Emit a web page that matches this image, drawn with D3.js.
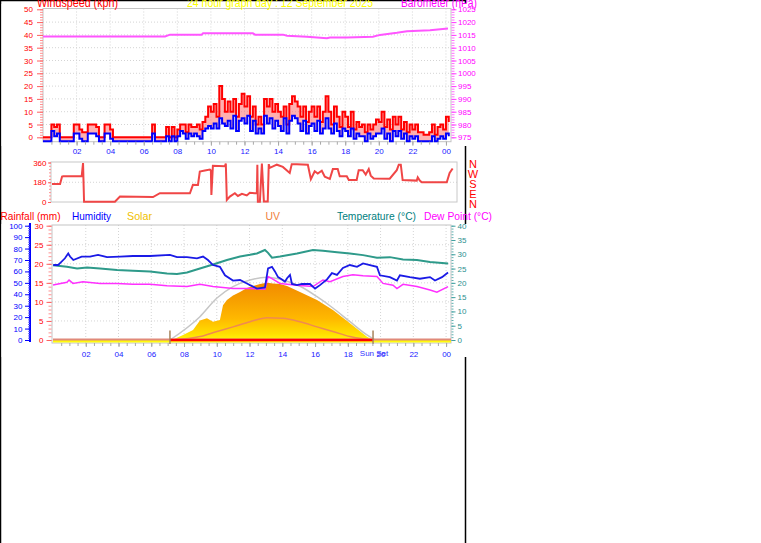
<!DOCTYPE html>
<html><head><meta charset="utf-8">
<script src="https://cdn.jsdelivr.net/npm/d3@7"></script>
<style>
html,body{margin:0;padding:0;background:#fff;}
svg{display:block;font-family:"Liberation Sans",Arial,sans-serif;}
</style></head><body>
<svg id="c" width="761" height="543"></svg>
<script>
// ---------------- DATA ----------------
// wind, 10-minute samples starting 00:00 (kph)
const windGust = [
0,0,0,5,4,5, 0,0,0,0,0,5, 5,3,2,2,5,5, 5,4,0,0,5,5, 3,0,0,0,0,0, 0,0,0,0,0,0,
0,0,0,5,0,0, 0,0,4,0,4,0, 3,5,5,2,5,4, 4,5,3,6,8,12, 10,13,8,20,15,10, 14,10,15,8,13,17,
12,16,8,12,5,8, 5,15,12,15,10,13, 10,8,12,5,13,16, 14,12,8,12,6,10, 12,8,12,6,10,16, 10,5,12,8,4,10,
8,4,10,3,6,4, 5,2,5,3,5,7, 6,10,4,7,3,8, 5,8,3,6,2,5, 3,5,2,2,1,1, 2,5,1,4,5,3, 8,6];
const windAvg = [
0,0,0,4,2,3, 0,0,0,0,0,3, 3,1,0,0,3,3, 3,2,0,0,3,3, 1,0,0,0,0,0, 0,0,0,0,0,0,
0,0,0,3,0,0, 0,0,2,0,2,0, 2,4,3,1,3,2, 3,2,1,4,5,6, 5,7,5,9,7,6, 8,5,10,4,8,9,
7,10,4,8,3,5, 3,10,7,9,5,8, 6,4,9,3,8,10, 9,7,4,8,3,6, 7,4,8,3,5,9, 5,3,7,4,2,5,
4,2,5,1,3,2, 2,0,3,1,2,3, 3,5,1,3,0,4, 2,4,1,3,0,2, 1,2,0,0,0,0, 0,2,0,1,2,1, 3,2];
const baroHours  = [0, 7.27, 7.56, 9.45, 9.53, 12.5, 12.63, 14.3, 14.53, 15.72, 16.91, 17.09, 18.1, 19.65, 20.07, 21.08, 21.68, 23.05, 24.12];
const baroValues = [1014.4, 1014.4, 1015.1, 1015.1, 1015.6, 1015.6, 1015.1, 1015.1, 1014.7, 1014.3, 1013.7, 1014.0, 1014.0, 1014.3, 1015.0, 1015.8, 1016.4, 1016.8, 1017.5];

const dirHours = [0.06,0.54,0.66,0.73,1.83,1.91,1.97,3.81,4.11,6.08,6.49,8.28,8.46,8.76,8.87,9.17,9.47,9.53,9.56,9.65,10.36,10.42,10.48,10.66,10.96,11.14,11.38,11.67,11.85,12.15,12.27,12.30,12.33,12.45,12.57,12.69,12.92,12.98,13.04,13.46,13.82,14.23,14.35,14.65,15.31,15.49,15.72,15.90,16.14,16.32,16.62,16.80,17.09,17.21,17.63,17.75,18.22,18.34,18.58,18.76,18.94,19.06,19.24,20.19,20.61,20.73,20.85,20.96,21.80,21.86,21.98,22.10,23.59,23.76,23.94];
const dirValues = [165,165,232,235,235,355,2,2,49,45,80,80,156,155,278,287,295,287,64,330,325,350,18,49,80,55,75,60,85,80,80,339,2,2,350,5,5,345,311,340,320,265,345,345,340,208,280,260,285,230,210,300,300,235,235,200,200,290,290,250,300,240,215,212,290,340,340,200,195,225,195,180,180,265,305];

const humHours  = [0.02,0.31,0.73,0.93,1.04,1.24,1.75,2.26,2.75,3.30,4.09,4.88,5.92,7.14,7.57,8.18,8.79,9.16,9.46,9.77,10.19,10.50,10.99,11.42,11.90,12.03,12.45,12.94,13.13,13.37,13.55,13.74,13.98,14.16,14.29,14.47,14.59,14.90,15.20,15.69,16.00,16.30,16.73,17.03,17.34,17.70,18.13,18.56,18.93,19.35,19.78,19.96,20.57,21.00,21.18,21.79,22.40,23.02,23.32,23.75,24.12];
const humValues = [65.6,65.6,71.5,75.8,73,70,73,73,74.5,72.5,73,73.5,73.5,74.5,72.5,72.5,71.5,73,70,65.6,64,56.6,52,52.5,49,48,45,46,62.7,64,60,55,53,51,54,57,49,48,49,49,45,48,53,58.5,57,63,65.6,64,67,65.6,64,56.6,55,52,56.6,55,53.6,55,52,55,59];

const tempHours  = [0,0.85,1.47,2.08,2.87,3.91,4.88,5.92,6.96,7.57,8.18,8.97,9.77,10.62,11.42,12.03,12.45,12.94,13.13,13.37,13.86,14.90,15.87,16.48,17.34,18.13,18.93,19.78,20.57,21.37,22.22,23.02,24.12];
const tempValues = [26.2,25.6,25.0,25.4,25.0,24.5,24.2,24.0,23.3,23.1,23.6,25.0,26.4,28.0,29.2,29.8,30.3,31.5,30.5,28.8,29.2,30.3,31.5,31.2,30.7,30.3,29.7,28.8,29.0,28.2,28.0,27.3,26.8];

const dewHours  = [0,0.85,0.98,1.22,1.83,2.87,3.91,4.88,5.92,6.96,8.18,8.97,9.77,10.99,12.03,12.94,13.13,13.37,13.86,14.90,15.87,16.48,16.91,17.70,18.31,18.93,19.78,20.15,20.76,21.00,21.37,22.22,23.02,23.44,24.12];
const dewValues = [19.25,20.2,21.0,19.8,20.4,19.8,19.8,19.5,19.5,19.0,18.7,19.5,18.7,18.0,18.0,17.8,22.2,21.5,19.8,19.2,18.7,21.0,20.4,22.2,22.8,22.5,22.2,19.8,19.2,18.0,19.5,18.7,17.5,16.7,18.7];

const solarHours  = [0,7.14,7.27,7.94,8.55,8.97,9.40,9.77,10.19,10.38,10.62,10.99,11.42,11.84,12.21,12.64,13.06,13.43,13.86,14.29,15.08,16.12,17.09,18.13,19.17,19.54,24.3];
const solarValues = [0,0,0,44,88,170,190,160,175,305,350,390,420,455,472,490,500,495,490,472,420,350,262,146,29,0,0];
const solarMaxHours  = [7.14,8.97,10.01,10.99,12.03,13.06,14.04,15.08,16.12,17.09,18.13,19.17,19.66];
const solarMaxValues = [0,204,367,467,525,548,525,470,379,280,160,44,0];
const uvHours  = [7.27,8.97,10.01,10.99,12.03,13.06,14.04,15.08,16.12,17.09,18.13,18.93,19.54];
const uvValues = [0,0.6,1.5,2.3,3.2,3.9,3.8,3.2,2.3,1.5,0.6,0.2,0];
const rainHours  = [0,24.3];
const rainValues = [0,0];
const sunEvents = [7.14, 19.54];   // sunrise, sunset (hours)

const titleText = "24 hour graph day : 12 September 2025";
const hourTicks = [2,4,6,8,10,12,14,16,18,20,22,24];

// ---------------- DRAW ----------------
const svg = d3.select("#c");
const FONT = '"Liberation Sans",Arial,sans-serif';

// outer frame lines
svg.append("line").attr("x1",465.5).attr("x2",465.5).attr("y1",0).attr("y2",543).attr("stroke","#000").attr("stroke-width",1.5);
svg.append("line").attr("x1",0.5).attr("x2",0.5).attr("y1",0).attr("y2",543).attr("stroke","#000").attr("stroke-width",1.5);
svg.append("line").attr("x1",0).attr("x2",466).attr("y1",0.5).attr("y2",0.5).attr("stroke","#000").attr("stroke-width",1.5);
// chart image backgrounds (hide frame line)
svg.append("rect").attr("x",1.5).attr("y",4).attr("width",474).attr("height",142).attr("fill","#fff");
svg.append("rect").attr("x",1.5).attr("y",224).attr("width",474).attr("height",133).attr("fill","#fff");

function grid(g, xs, ys, x0, x1, y0, y1){
  xs.forEach(x => g.append("line").attr("x1",x).attr("x2",x).attr("y1",y0).attr("y2",y1)
     .attr("stroke","#d4d4d4").attr("stroke-dasharray","1,2"));
  ys.forEach(y => g.append("line").attr("x1",x0).attr("x2",x1).attr("y1",y).attr("y2",y)
     .attr("stroke","#d4d4d4").attr("stroke-dasharray","1,2"));
}
function styleAxis(g, textColor, tickColor, keepDomain){
  g.attr("font-family",FONT).attr("font-size",8);
  if(!keepDomain) g.select(".domain").remove();
  g.selectAll(".tick line").attr("stroke",tickColor);
  g.selectAll(".tick text").attr("fill",textColor);
}
function txt(x,y,s,color,size,len,anchor){
  const t = svg.append("text").attr("x",x).attr("y",y).text(s).attr("fill",color)
    .attr("font-size",size).attr("font-family",FONT);
  if(len) t.attr("textLength",len).attr("lengthAdjust","spacingAndGlyphs");
  if(anchor) t.attr("text-anchor",anchor);
  return t;
}
const fmtHour = d => String(d % 24).padStart(2,"0");
const fmtInt = d => String(d);

// ===== TOP PANEL: wind & barometer =====
const xTop = d3.scaleLinear().domain([0,24.3]).range([43,451]);
const yWind = d3.scaleLinear().domain([0,50]).range([137.3,9.3]);
const yAvg  = d3.scaleLinear().domain([0,50]).range([141.3,13.3]);
const yBaro = d3.scaleLinear().domain([975,1025]).range([137.3,9.3]);
const gTop = svg.append("g");
grid(gTop, hourTicks.map(xTop), d3.range(5,50,5).map(yWind), 43, 451, 8.5, 141.7);
gTop.append("rect").attr("x",43).attr("y",8.5).attr("width",408).attr("height",133.2)
  .attr("fill","none").attr("stroke","#c4c4c4");

const windData = windGust.map((g,i)=>({h:i/6, g:g, a:windAvg[i]}));
gTop.append("path").datum(windData)
  .attr("d", d3.area().x(d=>xTop(d.h)).y0(d=>yAvg(d.a)).y1(d=>yWind(d.g)).curve(d3.curveStepAfter))
  .attr("fill","#ff7070").attr("opacity",0.55);
gTop.append("path").datum(windData)
  .attr("d", d3.line().x(d=>xTop(d.h)).y(d=>yWind(d.g)).curve(d3.curveStepAfter))
  .attr("fill","none").attr("stroke","#ff0000").attr("stroke-width",2);
gTop.append("path").datum(windData)
  .attr("d", d3.line().x(d=>xTop(d.h)).y(d=>yAvg(d.a)).curve(d3.curveStepAfter))
  .attr("fill","none").attr("stroke","#0000ff").attr("stroke-width",2);
gTop.append("path").datum(baroHours.map((h,i)=>[h,baroValues[i]]))
  .attr("d", d3.line().x(d=>xTop(d[0])).y(d=>yBaro(d[1])))
  .attr("fill","none").attr("stroke","#ff55ff").attr("stroke-width",2);

// axes
let a;
a = gTop.append("g").attr("transform","translate(43,0)")
  .call(d3.axisLeft(yWind).tickValues(d3.range(0,51,1)).tickSize(3).tickFormat(""));
styleAxis(a,"#f00","#ff9090");
a = gTop.append("g").attr("transform","translate(43,0)")
  .call(d3.axisLeft(yWind).tickValues(d3.range(0,51,5)).tickSize(6).tickPadding(4).tickFormat(fmtInt));
styleAxis(a,"#ff0000","#ff6060");
a = gTop.append("g").attr("transform","translate(451.5,0)")
  .call(d3.axisRight(yBaro).tickValues(d3.range(975,1026,1)).tickSize(3).tickFormat(""));
styleAxis(a,"#f0f","#ff70ff");
a = gTop.append("g").attr("transform","translate(451.5,0)")
  .call(d3.axisRight(yBaro).tickValues(d3.range(975,1026,5)).tickSize(5).tickPadding(1.5).tickFormat(fmtInt));
styleAxis(a,"#ff00ff","#ff40ff");
a = gTop.append("g").attr("transform","translate(0,141.7)")
  .call(d3.axisBottom(xTop).tickValues(d3.range(0.5,24.3,0.5)).tickSize(3).tickFormat(""));
styleAxis(a,"#00f","#a8a8a8");
a = gTop.append("g").attr("transform","translate(0,141.7)")
  .call(d3.axisBottom(xTop).tickValues(hourTicks).tickSize(4).tickPadding(2.5).tickFormat(fmtHour));
styleAxis(a,"#2020ff","#a8a8a8");

// ===== MIDDLE PANEL: wind direction =====
const xMid = d3.scaleLinear().domain([0,24.2]).range([51,457]);
const yDir = d3.scaleLinear().domain([0,360]).range([202,162.5]);
const gMid = svg.append("g");
grid(gMid, [], [yDir(180)], 51, 457, 0, 0);
gMid.append("rect").attr("x",51).attr("y",162).attr("width",406).attr("height",40)
  .attr("fill","none").attr("stroke","#c8c8c8");
gMid.append("path").datum(dirHours.map((h,i)=>[h,dirValues[i]]))
  .attr("d", d3.line().x(d=>xMid(d[0])).y(d=>yDir(d[1])))
  .attr("fill","none").attr("stroke","#f04646").attr("stroke-width",2);
a = gMid.append("g").attr("transform","translate(51,0)")
  .call(d3.axisLeft(yDir).tickValues(d3.range(0,361,30)).tickSize(2).tickFormat(""));
styleAxis(a,"#f00","#ff9090");
a = gMid.append("g").attr("transform","translate(51,0)")
  .call(d3.axisLeft(yDir).tickValues([0,180,360]).tickSize(3).tickPadding(1.5).tickFormat(fmtInt));
styleAxis(a,"#ff0000","#ff6060");
["N","W","S","E","N"].forEach((s,i)=> txt(473, 167.5 + i*10.2, s, "#ff0000", 11, null, "middle"));

// ===== BOTTOM PANEL =====
const xBot = d3.scaleLinear().domain([0,24.3]).range([53,451]);
const yHum  = d3.scaleLinear().domain([0,100]).range([340,225.7]);
const yRain = d3.scaleLinear().domain([0,30]).range([340,225.7]);
const yTemp = d3.scaleLinear().domain([0,40]).range([340,225.7]);
const ySolar= d3.scaleLinear().domain([0,1000]).range([340,225.7]);
const yUV   = d3.scaleLinear().domain([0,20]).range([340,225.7]);
const gBot = svg.append("g");
grid(gBot, hourTicks.map(xBot), d3.range(5,30,5).map(yRain), 52, 451, 225, 343);
gBot.append("rect").attr("x",52).attr("y",225).attr("width",399).attr("height",118)
  .attr("fill","none").attr("stroke","#c4c4c4");

const defs = svg.append("defs");
const grad = defs.append("linearGradient").attr("id","solarGrad")
  .attr("gradientUnits","userSpaceOnUse").attr("x1",0).attr("x2",0).attr("y1",282).attr("y2",343);
[[0,"#f28a00"],[0.3,"#f7a000"],[0.6,"#ffb800"],[0.85,"#ffe000"],[1,"#ffff10"]]
  .forEach(s=>grad.append("stop").attr("offset",s[0]).attr("stop-color",s[1]));
gBot.append("path").datum(solarHours.map((h,i)=>[h,solarValues[i]]))
  .attr("d", d3.area().x(d=>xBot(d[0])).y0(342.5).y1(d=>ySolar(d[1])))
  .attr("fill","url(#solarGrad)");
gBot.append("path").datum(solarMaxHours.map((h,i)=>[h,solarMaxValues[i]]))
  .attr("d", d3.line().x(d=>xBot(d[0])).y(d=>ySolar(d[1])).curve(d3.curveMonotoneX))
  .attr("fill","none").attr("stroke","#c6c6c6").attr("stroke-width",1.5);
gBot.append("path").datum(uvHours.map((h,i)=>[h,uvValues[i]]))
  .attr("d", d3.line().x(d=>xBot(d[0])).y(d=>yUV(d[1])).curve(d3.curveMonotoneX))
  .attr("fill","none").attr("stroke","#f08a50").attr("stroke-width",1.5);
// rainfall
gBot.append("path").datum(rainHours.map((h,i)=>[h,rainValues[i]]))
  .attr("d", d3.line().x(d=>xBot(d[0])).y(d=>yRain(d[1])-0.5))
  .attr("fill","none").attr("stroke","#e08a7a").attr("stroke-width",2);
gBot.append("line").attr("x1",xBot(sunEvents[0])).attr("x2",xBot(sunEvents[1]))
  .attr("y1",yRain(0)).attr("y2",yRain(0)).attr("stroke","#ff0000").attr("stroke-width",2.5);
// humidity / temp / dew
gBot.append("path").datum(tempHours.map((h,i)=>[h,tempValues[i]]))
  .attr("d", d3.line().x(d=>xBot(d[0])).y(d=>yTemp(d[1])))
  .attr("fill","none").attr("stroke","#2e9a8a").attr("stroke-width",2);
gBot.append("path").datum(dewHours.map((h,i)=>[h,dewValues[i]]))
  .attr("d", d3.line().x(d=>xBot(d[0])).y(d=>yTemp(d[1])))
  .attr("fill","none").attr("stroke","#ff30ff").attr("stroke-width",1.5);
gBot.append("path").datum(humHours.map((h,i)=>[h,humValues[i]]))
  .attr("d", d3.line().x(d=>xBot(d[0])).y(d=>yHum(d[1])))
  .attr("fill","none").attr("stroke","#1a1ae6").attr("stroke-width",1.8);
// sunrise / sunset markers
sunEvents.forEach(h => gBot.append("line").attr("x1",xBot(h)).attr("x2",xBot(h))
  .attr("y1",330.5).attr("y2",344).attr("stroke","#a8845c").attr("stroke-width",1.5));

// bottom axes
gBot.append("line").attr("x1",30).attr("x2",30).attr("y1",223).attr("y2",342)
  .attr("stroke","#0000ff").attr("stroke-width",2);
a = gBot.append("g").attr("transform","translate(30,0)")
  .call(d3.axisLeft(yHum).tickValues(d3.range(0,101,2)).tickSize(2).tickFormat(""));
styleAxis(a,"#00f","#6060ff");
a = gBot.append("g").attr("transform","translate(30,0)")
  .call(d3.axisLeft(yHum).tickValues(d3.range(0,101,10)).tickSize(5).tickPadding(2.5).tickFormat(fmtInt));
styleAxis(a,"#0000ff","#0000ff");
a = gBot.append("g").attr("transform","translate(51.5,0)")
  .call(d3.axisLeft(yRain).tickValues(d3.range(0,31,1)).tickSize(3).tickFormat(""));
styleAxis(a,"#f00","#ff9090");
a = gBot.append("g").attr("transform","translate(51.5,0)")
  .call(d3.axisLeft(yRain).tickValues(d3.range(0,31,5)).tickSize(5).tickPadding(3).tickFormat(fmtInt));
styleAxis(a,"#ff0000","#ff6060");
a = gBot.append("g").attr("transform","translate(451.5,0)")
  .call(d3.axisRight(yTemp).tickValues(d3.range(0,41,1)).tickSize(2).tickFormat(""));
styleAxis(a,"#399","#60b0b0");
a = gBot.append("g").attr("transform","translate(451.5,0)")
  .call(d3.axisRight(yTemp).tickValues(d3.range(0,41,5)).tickSize(4).tickPadding(2).tickFormat(fmtInt));
styleAxis(a,"#2a9090","#40a0a0");
a = gBot.append("g").attr("transform","translate(0,343)")
  .call(d3.axisBottom(xBot).tickValues(d3.range(0.5,24.3,0.5)).tickSize(3).tickFormat(""));
styleAxis(a,"#00f","#a8a8a8");
a = gBot.append("g").attr("transform","translate(0,343)")
  .call(d3.axisBottom(xBot).tickValues(hourTicks).tickSize(4).tickPadding(4.5).tickFormat(fmtHour));
styleAxis(a,"#2020ff","#a8a8a8");
txt(xBot(sunEvents[1])+1, 356, "Sun Set", "#3030ff", 8, null, "middle");

// ===== TITLES / LEGENDS =====
txt(37, 6.5, "Windspeed (kph)", "#ff0000", 12, 81);
txt(187, 6.5, titleText, "#ffff00", 12, 186);
txt(401, 6.5, "Barometer (hPa)", "#ff00ff", 12, 76);
txt(0.5, 219.5, "Rainfall (mm)", "#ff0000", 11.5, 60);
txt(72, 219.5, "Humidity", "#0000ff", 11.5, 39);
txt(127, 219.5, "Solar", "#f0c000", 11.5, 25);
txt(265.5, 219.5, "UV", "#f08040", 11.5, 14.5);
txt(337, 219.5, "Temperature (°C)", "#008080", 11.5, 79);
txt(424, 219.5, "Dew Point (°C)", "#ff00ff", 11.5, 68);
</script>
</body></html>
